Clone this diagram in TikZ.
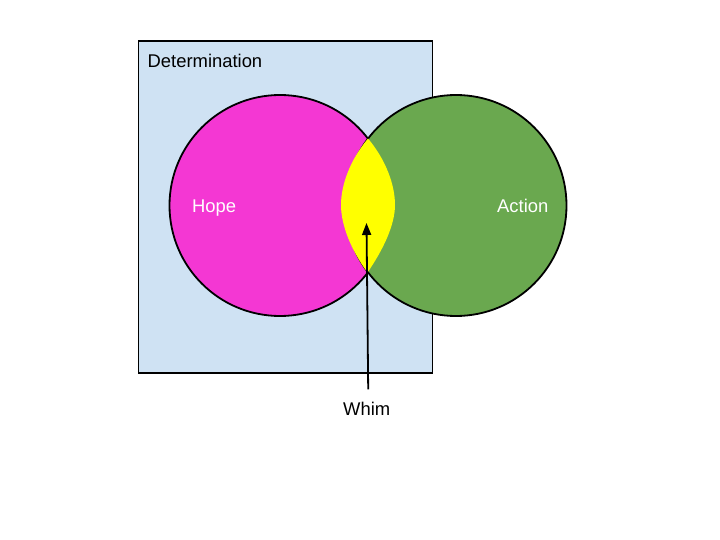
\documentclass[tikz,border=0pt]{standalone}
\usepackage{fontspec}
\setmainfont{Liberation Sans}
\usetikzlibrary{positioning, arrows.meta}

\definecolor{detblue}{HTML}{CFE2F3}
\definecolor{hopepink}{HTML}{F437D3}
\definecolor{actiongreen}{HTML}{6AA84F}
\definecolor{whimyellow}{HTML}{FFFF00}

\tikzset{
    venn/.style={circle, draw=black, line width=1.8pt, minimum size=221pt, inner sep=0pt},
    detbox/.style={rectangle, draw=black, line width=1.6pt, fill=detblue, inner sep=0pt,
        minimum width=294pt, minimum height=332pt, anchor=north west},
    txt/.style={anchor=base west, inner sep=0pt, font=\fontsize{18.4}{22}\selectfont},
}

\begin{document}
\begin{tikzpicture}[x=1pt, y=-1pt]

\useasboundingbox (0,0) rectangle (720,540);

% Radius and centres
\def\rad{110.5}
\def\cy{205.5}

% Determination box
\node[detbox] (det) at (137.5,40) {};
\node[txt] (detlabel) at (147.5,67.5) {Determination};

% The two circles
\node[venn, fill=hopepink] (hope) at (280,\cy) {};
\node[venn, fill=actiongreen] (action) at (456,\cy) {};

% Overlap (lens) on top of the borders
\fill[whimyellow] (368,138.5) .. controls (350,160) and (341,185) .. (341,205)
    .. controls (341,225) and (351,250) .. (367.5,272.5)
    .. controls (383,250) and (395,225) .. (395,205)
    .. controls (395,185) and (386,160) .. (368,138.5) -- cycle;

% Labels
\node[txt, text=white] (hopelabel) at (192,212) {Hope};
\node[txt, text=white] (actionlabel) at (497,212) {Action};
\node[txt] (whim) at (343,415) {Whim};

% Arrow into the lens
\coordinate (tip) at (366.5,223);
\draw[line width=1.8pt, -{Triangle[length=12pt, width=9pt]}] ([xshift=1.5pt, yshift=12pt]whim.north) -- (tip);

\end{tikzpicture}
\end{document}
